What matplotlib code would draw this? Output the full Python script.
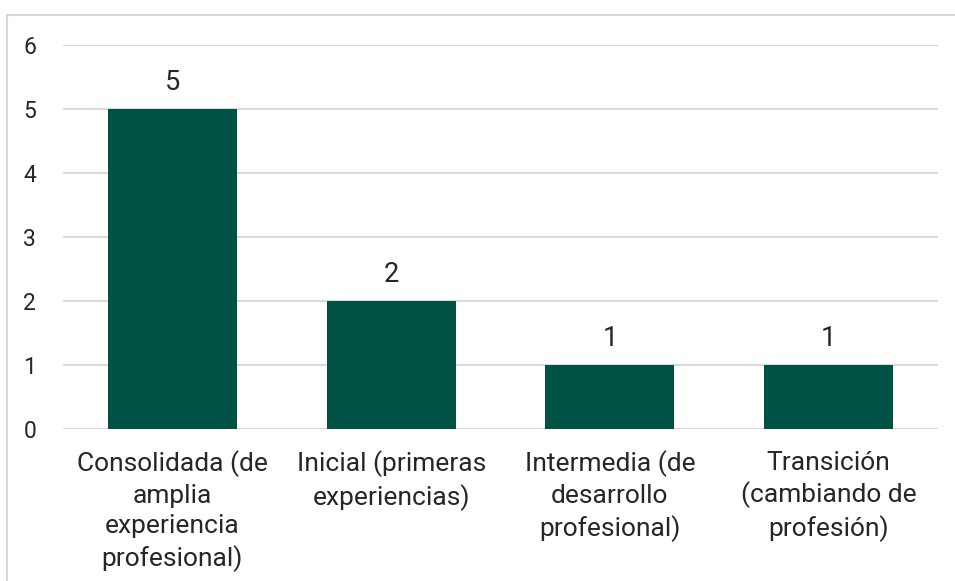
import matplotlib.pyplot as plt
from matplotlib.patches import Rectangle

plt.rcParams['font.family'] = ['Roboto', 'DejaVu Sans']

categories = ["Consolidada (de\namplia\nexperiencia\nprofesional)",
              "Inicial (primeras\nexperiencias)",
              "Intermedia (de\ndesarrollo\nprofesional)",
              "Transición\n(cambiando de\nprofesión)"]
values = [5, 2, 1, 1]
yticks = [0, 1, 2, 3, 4, 5, 6]

text_color = '#262626'
bar_color = '#005244'
grid_color = '#D9D9D9'

fig = plt.figure(figsize=(9.55, 5.81), dpi=100)
# outer chart border (top and left visible, rest cut off)
fig.patches.append(Rectangle((7 / 955, -0.05), 1.0, 1 - 15 / 581 + 0.05,
                             transform=fig.transFigure, fill=False,
                             edgecolor=grid_color, linewidth=1.5))

ax = fig.add_axes([63 / 955, 1 - 429 / 581, 875 / 955, 384 / 581])
x = range(len(categories))
bars = ax.bar(x, values, width=0.59, color=bar_color, zorder=3)

for b, v in zip(bars, values):
    ax.annotate(str(v), (b.get_x() + b.get_width() / 2, v),
                xytext=(0, 14), textcoords='offset points',
                ha='center', va='baseline', fontsize=19.5, color=text_color)

ax.set_ylim(0, 6)
ax.set_xlim(-0.5, len(categories) - 0.5)
ax.set_yticks(yticks)
ax.set_xticks(list(x))
ax.set_xticklabels(categories, fontsize=19, color=text_color, linespacing=1.34)
ax.tick_params(axis='x', length=0, pad=15.5)
ax.tick_params(axis='y', length=0, pad=24, labelsize=16.5, labelcolor=text_color)
for lab in ax.get_yticklabels():
    lab.set_horizontalalignment('center')

ax.grid(axis='y', color=grid_color, linewidth=1.5, zorder=0)
for s in ax.spines.values():
    s.set_visible(False)

fig.savefig('out.png', dpi=100)
